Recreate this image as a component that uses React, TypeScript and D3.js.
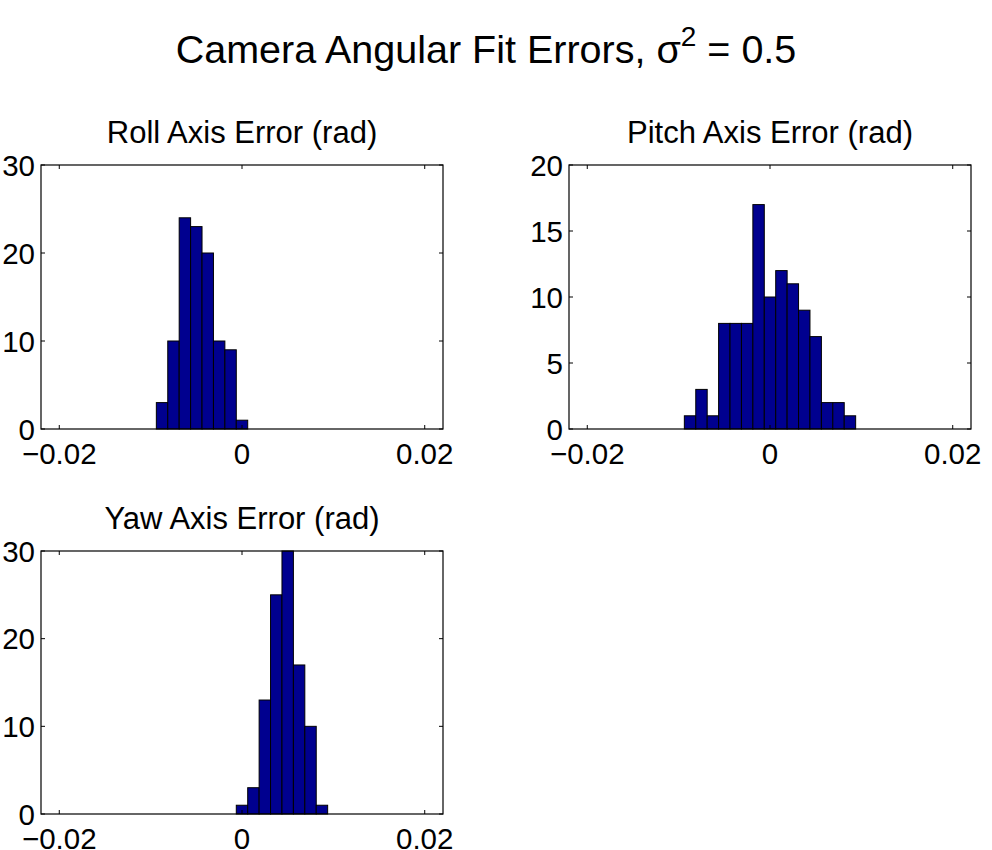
import * as d3 from 'd3'

// histogram data (100 samples each), bin centers in rad
const BIN_WIDTH = 0.00125

const rollCenters = [-0.00875, -0.0075, -0.00625, -0.005, -0.00375, -0.0025, -0.00125, 0]
const rollCounts = [3, 10, 24, 23, 20, 10, 9, 1]

const pitchCenters = [
  -0.00875, -0.0075, -0.00625, -0.005, -0.00375, -0.0025, -0.00125, 0, 0.00125, 0.0025, 0.00375,
  0.005, 0.00625, 0.0075, 0.00875,
]
const pitchCounts = [1, 3, 1, 8, 8, 8, 17, 10, 12, 11, 9, 7, 2, 2, 1]

const yawCenters = [0, 0.00125, 0.0025, 0.00375, 0.005, 0.00625, 0.0075, 0.00875]
const yawCounts = [1, 3, 13, 25, 30, 17, 10, 1]

const xTicks = [-0.02, 0, 0.02]
const X_DOMAIN: [number, number] = [-0.022, 0.022]

const FONT = '"Liberation Sans", Arial, Helvetica, sans-serif'
const BAR_FILL = '#00008F'
const TICK = 4
const LABEL_SIZE = 29.5

type PanelProps = {
  left: number
  top: number
  width: number
  height: number
  title: string
  centers: number[]
  counts: number[]
  yMax: number
  yTicks: number[]
}

function Panel({ left, top, width, height, title, centers, counts, yMax, yTicks }: PanelProps) {
  const x = d3.scaleLinear().domain(X_DOMAIN).range([0, width])
  const y = d3.scaleLinear().domain([0, yMax]).range([height, 0])

  const fmt = (v: number) => (v === 0 ? '0' : v < 0 ? '\u2212' + Math.abs(v) : String(v))

  return (
    <g transform={`translate(${left},${top})`}>
      <text x={width / 2} y={-22} textAnchor="middle" fontSize={31} fontFamily={FONT}>
        {title}
      </text>

      {/* bars */}
      {centers.map((c, i) => (
        <rect
          key={i}
          x={x(c - BIN_WIDTH / 2)}
          y={y(counts[i])}
          width={x(c + BIN_WIDTH / 2) - x(c - BIN_WIDTH / 2)}
          height={height - y(counts[i])}
          fill={BAR_FILL}
          stroke="#000"
          strokeWidth={1}
        />
      ))}

      {/* box */}
      <rect x={0} y={0} width={width} height={height} fill="none" stroke="#000" strokeWidth={1.2} />

      {/* x ticks, inward at bottom and top */}
      {xTicks.map((t) => (
        <g key={t}>
          <line x1={x(t)} x2={x(t)} y1={height} y2={height - TICK} stroke="#000" />
          <line x1={x(t)} x2={x(t)} y1={0} y2={TICK} stroke="#000" />
          <text
            x={x(t)}
            y={height + 35}
            textAnchor="middle"
            fontSize={LABEL_SIZE}
            fontFamily={FONT}
          >
            {fmt(t)}
          </text>
        </g>
      ))}

      {/* y ticks */}
      {yTicks.map((t) => (
        <g key={t}>
          <line x1={0} x2={TICK} y1={y(t)} y2={y(t)} stroke="#000" />
          <line x1={width} x2={width - TICK} y1={y(t)} y2={y(t)} stroke="#000" />
          <text
            x={-6}
            y={y(t)}
            dy="0.36em"
            textAnchor="end"
            fontSize={LABEL_SIZE}
            fontFamily={FONT}
          >
            {t}
          </text>
        </g>
      ))}
    </g>
  )
}

export default function App() {
  return (
    <div style={{ position: 'absolute', left: 0, top: 0 }}>
      <svg width={992} height={850} style={{ display: 'block', background: '#fff' }}>
        <text x={486} y={63} textAnchor="middle" fontSize={39.5} fontFamily={FONT}>
          Camera Angular Fit Errors, {'\u03C3'}
          <tspan dy={-17} fontSize={28}>
            2
          </tspan>
          <tspan dy={17}> = 0.5</tspan>
        </text>

        <Panel
          left={41}
          top={165}
          width={402}
          height={264}
          title="Roll Axis Error (rad)"
          centers={rollCenters}
          counts={rollCounts}
          yMax={30}
          yTicks={[0, 10, 20, 30]}
        />
        <Panel
          left={569}
          top={165}
          width={402}
          height={264}
          title="Pitch Axis Error (rad)"
          centers={pitchCenters}
          counts={pitchCounts}
          yMax={20}
          yTicks={[0, 5, 10, 15, 20]}
        />
        <Panel
          left={41}
          top={551}
          width={402}
          height={263}
          title="Yaw Axis Error (rad)"
          centers={yawCenters}
          counts={yawCounts}
          yMax={30}
          yTicks={[0, 10, 20, 30]}
        />
      </svg>
    </div>
  )
}
